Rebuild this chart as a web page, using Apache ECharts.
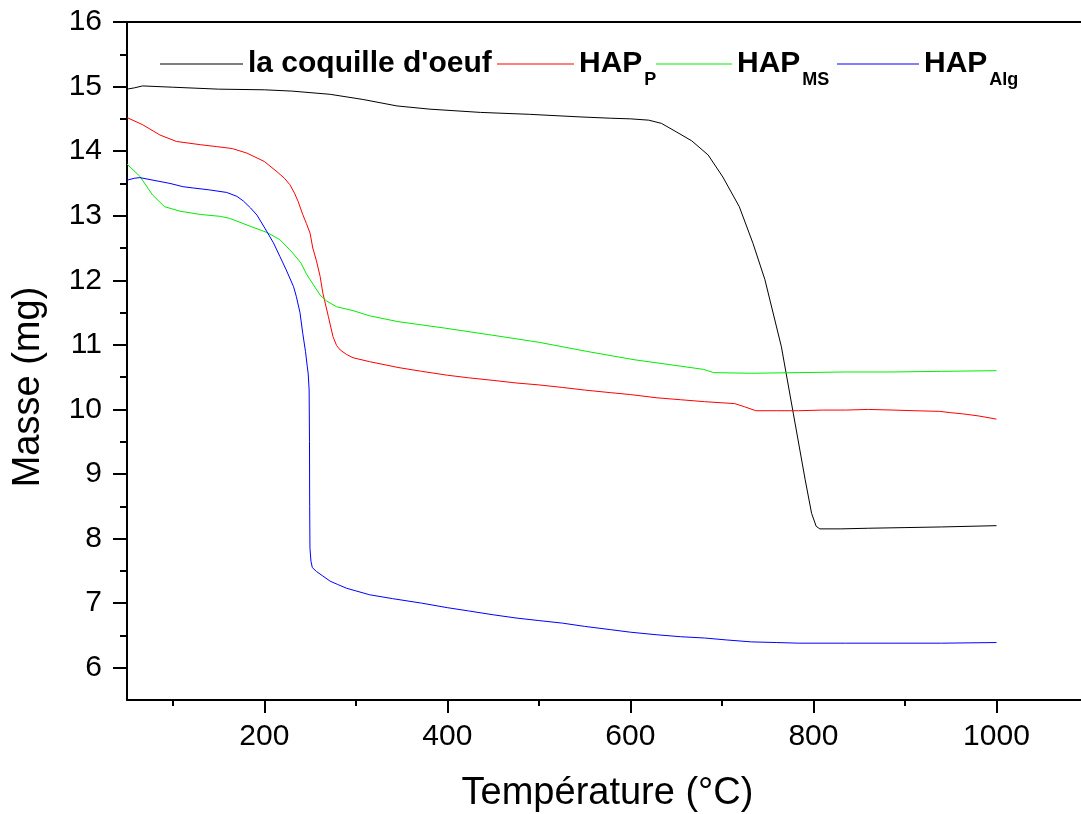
<!DOCTYPE html>
<html>
<head>
<meta charset="utf-8">
<script src="https://cdn.jsdelivr.net/npm/echarts@6/dist/echarts.min.js"></script>
<style>
    html, body { margin: 0; padding: 0; background: #fff; }
    #chart { width: 1081px; height: 814px; }
</style>
</head>
<body>
<div id="chart"></div>
<script>
// [température °C, masse mg]
const coquille = [
    [50, 14.96], [58, 14.98], [67, 15.01], [100, 14.99], [150, 14.96], [200, 14.95],
    [230, 14.93], [272, 14.88], [308, 14.80], [345, 14.70], [381, 14.65], [436, 14.60],
    [490, 14.57], [545, 14.53], [578, 14.51], [600, 14.50], [620, 14.48], [634, 14.43],
    [650, 14.30], [667, 14.16], [685, 13.94], [701, 13.60], [719, 13.14], [734, 12.57],
    [747, 12.01], [765, 10.97], [778, 9.94], [791, 8.91], [798, 8.39], [803, 8.19],
    [807, 8.15], [830, 8.15], [860, 8.16], [900, 8.17], [940, 8.18], [970, 8.19], [1000, 8.20]
];
const hapP = [
    [50, 14.52], [67, 14.41], [86, 14.25], [104, 14.15], [130, 14.10], [148, 14.07],
    [165, 14.04], [181, 13.97], [200, 13.84], [214, 13.68], [222, 13.58], [228, 13.48],
    [233, 13.35], [237, 13.22], [242, 13.02], [246, 12.88], [250, 12.73], [253, 12.50],
    [257, 12.30], [261, 12.06], [264, 11.80], [266, 11.68], [270, 11.44], [275, 11.13],
    [279, 10.99], [283, 10.92], [290, 10.85], [297, 10.80], [315, 10.74], [346, 10.65],
    [372, 10.59], [400, 10.53], [423, 10.49], [450, 10.45], [475, 10.41], [500, 10.38],
    [526, 10.34], [550, 10.30], [578, 10.26], [600, 10.23], [629, 10.18], [655, 10.15],
    [681, 10.12], [714, 10.09], [725, 10.04], [737, 9.98], [760, 9.98], [784, 9.98],
    [810, 9.99], [835, 9.99], [860, 10.00], [887, 9.99], [910, 9.98], [938, 9.97],
    [950, 9.95], [964, 9.93], [980, 9.90], [1000, 9.85]
];
const hapMS = [
    [50, 13.80], [64, 13.61], [78, 13.32], [91, 13.14], [108, 13.07], [130, 13.02],
    [152, 12.99], [162, 12.96], [184, 12.84], [203, 12.74], [217, 12.63], [230, 12.44],
    [240, 12.27], [246, 12.10], [250, 12.01], [256, 11.88], [261, 11.77], [268, 11.68],
    [279, 11.59], [297, 11.53], [315, 11.45], [346, 11.36], [397, 11.26], [449, 11.15],
    [500, 11.04], [552, 10.90], [604, 10.77], [655, 10.67], [680, 10.62], [691, 10.57],
    [732, 10.56], [784, 10.57], [835, 10.58], [887, 10.58], [940, 10.59], [1000, 10.60]
];
const hapAlg = [
    [50, 13.55], [58, 13.58], [64, 13.59], [86, 13.53], [97, 13.50], [111, 13.45],
    [122, 13.43], [140, 13.40], [159, 13.36], [170, 13.30], [177, 13.23], [185, 13.12],
    [192, 13.01], [203, 12.75], [210, 12.58], [217, 12.37], [224, 12.16], [232, 11.90],
    [235, 11.75], [239, 11.50], [242, 11.18], [245, 10.90], [247, 10.66], [248, 10.55],
    [249, 10.30], [249.4, 9.50], [249.6, 8.50], [249.9, 7.85], [251, 7.65], [252.5, 7.55],
    [257, 7.49], [264, 7.42], [272, 7.34], [280, 7.29], [290, 7.23], [300, 7.19],
    [315, 7.13], [340, 7.07], [372, 7.00], [400, 6.93], [423, 6.88], [450, 6.82],
    [475, 6.77], [500, 6.73], [526, 6.69], [550, 6.64], [578, 6.59], [600, 6.55],
    [629, 6.51], [655, 6.48], [681, 6.46], [705, 6.43], [732, 6.40], [760, 6.39],
    [784, 6.38], [835, 6.38], [887, 6.38], [940, 6.38], [1000, 6.39]
];

const xTicks = [200, 400, 600, 800, 1000];
const xMinorTicks = [100, 300, 500, 700, 900, 1100];
const yTicks = [6, 7, 8, 9, 10, 11, 12, 13, 14, 15, 16];
const yMinorTicks = [6.5, 7.5, 8.5, 9.5, 10.5, 11.5, 12.5, 13.5, 14.5, 15.5];

const legendLabels = {
    coquille: '{b|la coquille d\'oeuf}',
    hapP: '{b|HAP}{s|P}',
    hapMS: '{b|HAP}{s|MS}',
    hapAlg: '{b|HAP}{s|Alg}'
};

const font = 'Liberation Sans';
const black = '#000';

function legendFor(name, left, width) {
    return {
        data: [name],
        left: left,
        top: 49,
        padding: 0,
        icon: 'rect',
        itemWidth: width,
        itemHeight: 2,
        itemStyle: { opacity: 0.5 },
        selectedMode: false,
        formatter: n => legendLabels[n],
        textStyle: {
            rich: {
                b: { fontFamily: font, fontSize: 30, fontWeight: 'bold', color: black, lineHeight: 30, verticalAlign: 'middle' },
                s: { fontFamily: font, fontSize: 18, fontWeight: 'bold', color: black, lineHeight: 18, verticalAlign: 'top', padding: [22, 0, 0, 2] }
            }
        }
    };
}

function axisLine() {
    return { onZero: false, lineStyle: { color: black, width: 2 } };
}

const option = {
    animation: false,
    backgroundColor: '#fff',
    grid: { left: 127, top: 22, bottom: 114, right: -7, outerBoundsMode: 'none' },
    legend: [
        legendFor('coquille', 160, 83),
        legendFor('hapP', 497, 77),
        legendFor('hapMS', 656, 76),
        legendFor('hapAlg', 837, 82)
    ],
    xAxis: [{
        type: 'value', min: 50, max: 1100, position: 'bottom',
        name: 'Température (°C)', nameLocation: 'middle', nameGap: 75,
        nameTextStyle: { fontFamily: font, fontSize: 38, color: black },
        axisLine: axisLine(),
        axisTick: { customValues: xTicks, length: 13, lineStyle: { color: black, width: 2 } },
        axisLabel: { customValues: xTicks, formatter: v => String(v), fontFamily: font, fontSize: 30, color: black, margin: 22 },
        splitLine: { show: false }
    }, {
        // graduations secondaires
        type: 'value', min: 50, max: 1100, position: 'bottom',
        axisLine: { show: false },
        axisTick: { customValues: xMinorTicks, length: 6, lineStyle: { color: black, width: 2 } },
        axisLabel: { show: false },
        splitLine: { show: false }
    }, {
        // bord supérieur du cadre
        type: 'value', min: 50, max: 1100, position: 'top',
        axisLine: axisLine(),
        axisTick: { show: false },
        axisLabel: { show: false },
        splitLine: { show: false }
    }],
    yAxis: [{
        type: 'value', min: 5.5, max: 16, position: 'left',
        name: 'Masse (mg)', nameLocation: 'middle', nameGap: 79,
        nameTextStyle: { fontFamily: font, fontSize: 38, color: black, padding: [0, 52, 0, 0] },
        axisLine: axisLine(),
        axisTick: { customValues: yTicks, length: 14, lineStyle: { color: black, width: 2 } },
        axisLabel: { customValues: yTicks, fontFamily: font, fontSize: 30, color: black, margin: 25 },
        splitLine: { show: false }
    }, {
        type: 'value', min: 5.5, max: 16, position: 'left',
        axisLine: { show: false },
        axisTick: { customValues: yMinorTicks, length: 7, lineStyle: { color: black, width: 2 } },
        axisLabel: { show: false },
        splitLine: { show: false }
    }],
    series: [
        { name: 'coquille', data: coquille, color: '#000000' },
        { name: 'hapP', data: hapP, color: '#ff0000' },
        { name: 'hapMS', data: hapMS, color: '#00ee00' },
        { name: 'hapAlg', data: hapAlg, color: '#0000ff' }
    ].map(s => ({
        type: 'line',
        name: s.name,
        data: s.data,
        xAxisIndex: 0,
        yAxisIndex: 0,
        symbol: 'none',
        showSymbol: false,
        itemStyle: { color: s.color },
        lineStyle: { color: s.color, width: 1 }
    }))
};

echarts.init(document.getElementById('chart')).setOption(option);
</script>
</body>
</html>
